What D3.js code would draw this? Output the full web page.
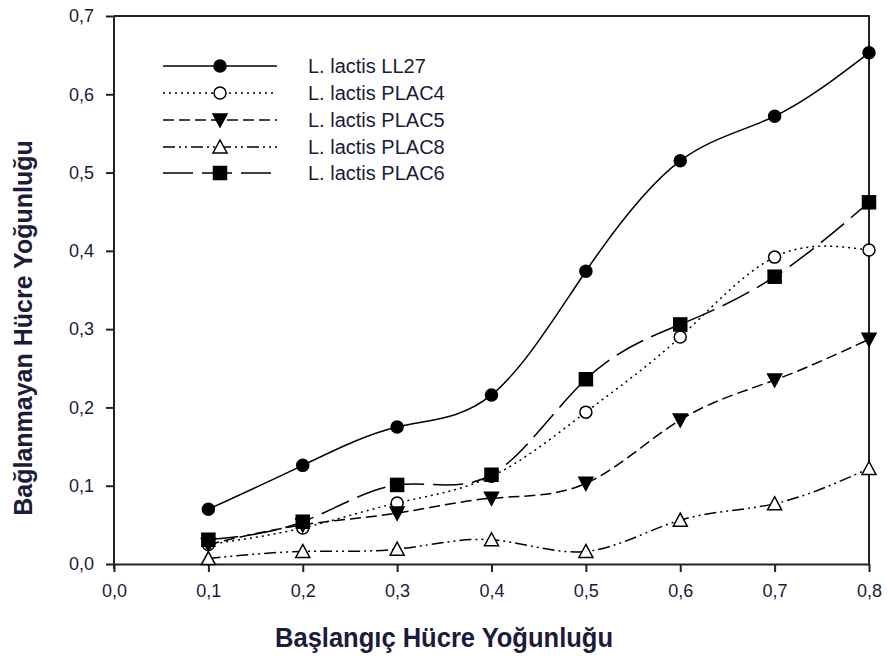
<!DOCTYPE html>
<meta charset="utf-8">
<style>
  body { margin: 0; background: #fff; }
  text { font-family: Arial, "Liberation Sans", sans-serif; }
</style>
<svg width="888" height="659"></svg>
<script src="https://d3js.org/d3.v7.min.js"></script>
<script>
  // values
  var xs = [0.1, 0.2, 0.3, 0.4, 0.5, 0.6, 0.7, 0.8]
  var ll27 = [0.070, 0.126, 0.175, 0.216, 0.374, 0.515, 0.572, 0.653]
  var plac4 = [0.025, 0.046, 0.078, 0.112, 0.194, 0.290, 0.392, 0.401]
  var plac5 = [0.025, 0.050, 0.065, 0.084, 0.103, 0.184, 0.235, 0.287]
  var plac8 = [0.007, 0.016, 0.019, 0.031, 0.016, 0.056, 0.077, 0.122]
  var plac6 = [0.031, 0.054, 0.101, 0.114, 0.236, 0.306, 0.367, 0.462]
  var xTicks = [0, 0.1, 0.2, 0.3, 0.4, 0.5, 0.6, 0.7, 0.8]
  var yTicks = [0, 0.1, 0.2, 0.3, 0.4, 0.5, 0.6, 0.7]

  var series = [
    { name: 'L. lactis LL27', values: ll27, dash: null, marker: 'circle', fill: '#000' },
    { name: 'L. lactis PLAC4', values: plac4, dash: '2,4', marker: 'circle', fill: '#fff' },
    { name: 'L. lactis PLAC5', values: plac5, dash: '11,5', marker: 'tridown', fill: '#000' },
    { name: 'L. lactis PLAC8', values: plac8, dash: '12,4,2,4,2,4', marker: 'triup', fill: '#fff' },
    { name: 'L. lactis PLAC6', values: plac6, dash: '30,9', marker: 'square', fill: '#000' }
  ]

  var textColor = '#1b1b3a'
  var svg = d3.select('svg')

  var x = d3.scaleLinear().domain([0, 0.8]).range([114, 869])
  var y = d3.scaleLinear().domain([0, 0.7]).range([564, 16])
  var fmt = d => d.toFixed(1).replace('.', ',')

  // frame top and right
  svg.append('path')
    .attr('d', 'M' + x(0) + ',' + y(0.7) + 'H' + x(0.8) + 'V' + y(0))
    .attr('fill', 'none')
    .attr('stroke', '#222')
    .attr('stroke-width', 2)

  var xAxis = svg.append('g')
    .attr('transform', 'translate(0,' + y(0) + ')')
    .call(d3.axisBottom(x).tickValues(xTicks).tickFormat(fmt).tickSizeInner(8).tickSizeOuter(0).tickPadding(12))
  var yAxis = svg.append('g')
    .attr('transform', 'translate(' + x(0) + ',0)')
    .call(d3.axisLeft(y).tickValues(yTicks).tickFormat(fmt).tickSizeInner(8).tickSizeOuter(0).tickPadding(12))

  ;[xAxis, yAxis].forEach(function (g) {
    g.attr('font-size', 18).attr('font-family', 'Arial, "Liberation Sans", sans-serif')
    g.select('.domain').attr('stroke', '#222').attr('stroke-width', 2)
    g.selectAll('.tick line').attr('stroke', '#222').attr('stroke-width', 2)
    g.selectAll('.tick text').attr('fill', textColor)
  })
  yAxis.select('.domain').attr('d', 'M0,' + (y(0) + 5) + 'V' + y(0.7))

  // axis titles
  svg.append('text')
    .attr('x', 444).attr('y', 647)
    .attr('text-anchor', 'middle')
    .attr('fill', textColor)
    .attr('textLength', 338)
    .attr('lengthAdjust', 'spacingAndGlyphs')
    .attr('font-size', 27)
    .attr('font-weight', 'bold')
    .text('Başlangıç Hücre Yoğunluğu')

  svg.append('text')
    .attr('transform', 'translate(32,328) rotate(-90)')
    .attr('text-anchor', 'middle')
    .attr('fill', textColor)
    .attr('font-size', 25)
    .attr('font-weight', 'bold')
    .text('Bağlanmayan Hücre Yoğunluğu')

  var line = d3.line()
    .x((d, i) => x(xs[i]))
    .y(d => y(d))
    .curve(d3.curveNatural)

  function marker(g, type, fill) {
    if (type === 'circle') {
      g.append('circle').attr('r', 6)
    } else if (type === 'square') {
      g.append('rect').attr('x', -6.5).attr('y', -6.5).attr('width', 13).attr('height', 13)
    } else if (type === 'tridown') {
      g.append('path').attr('d', 'M-7,-6L7,-6L0,7Z')
    } else {
      g.append('path').attr('d', 'M0,-7L7,6L-7,6Z')
    }
    g.selectAll('*').attr('fill', fill).attr('stroke', '#000').attr('stroke-width', 1.5)
  }

  series.forEach(function (s) {
    svg.append('path')
      .attr('d', line(s.values))
      .attr('fill', 'none')
      .attr('stroke', '#000')
      .attr('stroke-width', 1.5)
      .attr('stroke-dasharray', s.dash)
  })
  series.forEach(function (s) {
    s.values.forEach(function (v, i) {
      marker(svg.append('g').attr('transform', 'translate(' + x(xs[i]) + ',' + y(v) + ')'), s.marker, s.fill)
    })
  })

  // legend
  var rowY = [66, 93, 120, 147, 173]
  series.forEach(function (s, i) {
    var g = svg.append('g').attr('transform', 'translate(0,' + rowY[i] + ')')
    g.append('line')
      .attr('x1', 163).attr('x2', 277)
      .attr('stroke', '#000').attr('stroke-width', 1.5)
      .attr('stroke-dasharray', s.dash)
    marker(g.append('g').attr('transform', 'translate(220,0)'), s.marker, s.fill)
    g.append('text')
      .attr('x', 308).attr('y', 7)
      .attr('fill', textColor)
      .attr('font-size', 20)
      .text(s.name)
  })
</script>
